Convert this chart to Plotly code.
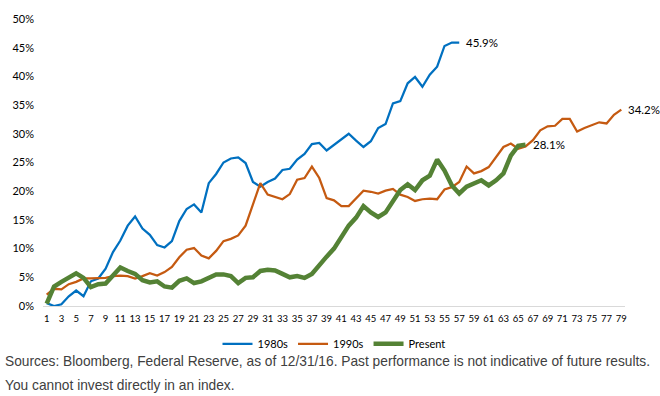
import plotly.graph_objects as go

# ---- data (cumulative return, %) ----
s1980 = [0.5, 0.0, 0.3, 1.7, 2.7, 1.7, 4.3, 4.8, 6.5, 9.4, 11.4, 14.0, 15.6, 13.5, 12.4, 10.6, 10.2, 11.3,
         14.8, 16.9, 17.7, 16.3, 21.4, 23.0, 25.0, 25.7, 25.9, 24.9, 21.6, 20.8, 21.6, 22.2, 23.7, 23.9,
         25.5, 26.5, 28.2, 28.4, 27.1, 28.1, 29.1, 30.0, 28.8, 27.7, 28.7, 31.0, 31.7, 35.3, 35.7, 38.8,
         39.9, 38.2, 40.3, 41.7, 45.3, 45.9, 45.9]
s1990 = [2.0, 3.0, 2.9, 3.8, 4.2, 4.8, 4.8, 4.9, 4.9, 5.2, 5.3, 5.2, 4.8, 5.2, 5.7, 5.3, 5.9, 6.8, 8.5,
         9.8, 10.1, 8.8, 8.3, 9.6, 11.3, 11.7, 12.3, 14.0, 17.8, 21.4, 19.4, 19.0, 18.6, 19.5, 22.0, 22.3,
         24.3, 22.3, 18.8, 18.4, 17.4, 17.4, 18.7, 20.1, 19.9, 19.6, 20.1, 20.4, 19.4, 19.0, 18.3, 18.6,
         18.7, 18.6, 20.3, 20.7, 21.6, 24.3, 23.1, 23.5, 24.2, 25.9, 27.7, 28.3, 27.4, 27.8, 28.9, 30.6,
         31.3, 31.4, 32.6, 32.6, 30.4, 31.0, 31.5, 32.0, 31.8, 33.3, 34.2]
present = [0.4, 3.4, 4.2, 4.9, 5.7, 4.9, 3.3, 3.8, 3.9, 5.3, 6.7, 6.1, 5.6, 4.5, 4.1, 4.3, 3.4, 3.2, 4.4,
           4.8, 4.0, 4.3, 5.0, 5.5, 5.5, 5.2, 4.0, 4.9, 5.0, 6.1, 6.3, 6.2, 5.6, 5.0, 5.2, 4.9, 5.6, 7.2,
           8.6, 10.0, 12.0, 14.0, 15.4, 17.4, 16.3, 15.5, 16.3, 18.4, 20.2, 21.2, 20.2, 21.9, 22.7, 25.5,
           23.6, 21.0, 19.6, 20.8, 21.4, 21.9, 21.0, 21.9, 23.1, 26.2, 27.9, 28.1]

series_names = ["1980s", "1990s", "Present"]
series_values = [s1980, s1990, present]
series_colors = ["#0070C0", "#C55A11", "#548235"]
series_widths = [2.25, 2.25, 4.5]

n_cat = 79
y_ticks = list(range(0, 51, 5))
x_ticks = list(range(1, n_cat + 1, 2))

footnote1 = "Sources: Bloomberg, Federal Reserve, as of 12/31/16. Past performance is not indicative of future results."
footnote2 = "You cannot invest directly in an index."

fig = go.Figure()
for name, vals, col, w in zip(series_names, series_values, series_colors, series_widths):
    xs = list(range(1, len(vals) + 1))
    fig.add_trace(go.Scatter(x=xs, y=vals, mode="lines", name=name,
                             line=dict(color=col, width=w), hoverinfo="skip"))
    fig.add_annotation(x=xs[-1], y=vals[-1], text=f"{vals[-1]:.1f}%", showarrow=False,
                       xanchor="left", yanchor="middle", xshift=5,
                       font=dict(family="Lato", size=11.5, color="#000000"))

fig.add_annotation(xref="paper", yref="paper", x=-40 / 585, y=(306 - 362) / 288,
                   text=footnote1, showarrow=False, xanchor="left", yanchor="middle",
                   font=dict(family="Liberation Sans", size=13.75, color="#404040"))
fig.add_annotation(xref="paper", yref="paper", x=-40 / 585, y=(306 - 386) / 288,
                   text=footnote2, showarrow=False, xanchor="left", yanchor="middle",
                   font=dict(family="Liberation Sans", size=13.75, color="#404040"))

fig.update_layout(
    width=660, height=396,
    margin=dict(l=40, r=35, t=18, b=90),
    paper_bgcolor="white", plot_bgcolor="white",
    showlegend=True,
    legend=dict(orientation="h", x=0.5, xanchor="center", y=(306 - 344) / 288, yanchor="middle",
                font=dict(family="Lato", size=11, color="#000000"),
                itemwidth=30, tracegroupgap=0, bgcolor="rgba(0,0,0,0)"),
    xaxis=dict(range=[0.5, n_cat + 0.5], tickmode="array", tickvals=x_ticks,
               ticktext=[str(v) for v in x_ticks], tickangle=0,
               showgrid=False, zeroline=False, showline=True, linecolor="#D9D9D9", linewidth=1,
               ticks="", ticklabelstandoff=4,
               tickfont=dict(family="Lato", size=9.5, color="#000000"), fixedrange=True),
    yaxis=dict(range=[0, 50], tickmode="array", tickvals=y_ticks,
               ticktext=[f"{v}%" for v in y_ticks],
               showgrid=False, zeroline=False, showline=False, ticks="", ticklabelstandoff=8,
               tickfont=dict(family="Lato", size=11, color="#000000"), fixedrange=True),
)

fig.write_html("out.html")
